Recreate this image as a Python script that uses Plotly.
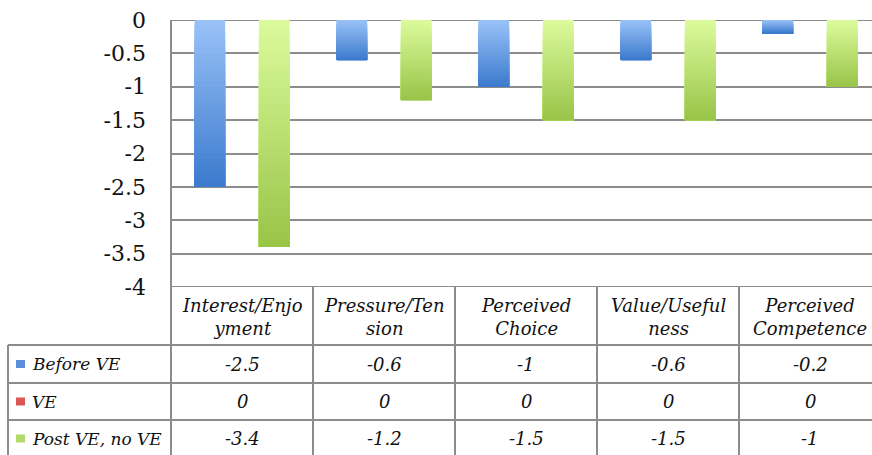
import plotly.graph_objects as go

# ---- data -------------------------------------------------------------
categories = ["Interest/Enjoyment", "Pressure/Tension", "Perceived Choice",
              "Value/Usefulness", "Perceived Competence"]
header_labels = ["Interest/Enjo<br>yment", "Pressure/Ten<br>sion",
                 "Perceived<br>Choice", "Value/Useful<br>ness",
                 "Perceived<br>Competence"]
series_names = ["Before VE", "VE", "Post VE, no VE"]
before_ve = [-2.5, -0.6, -1, -0.6, -0.2]
ve = [0, 0, 0, 0, 0]
post_ve = [-3.4, -1.2, -1.5, -1.5, -1]
value_labels = [
    ["-2.5", "-0.6", "-1", "-0.6", "-0.2"],
    ["0", "0", "0", "0", "0"],
    ["-3.4", "-1.2", "-1.5", "-1.5", "-1"],
]
y_ticks = [0, -0.5, -1, -1.5, -2, -2.5, -3, -3.5, -4]
y_tick_text = ["0", "-0.5", "-1", "-1.5", "-2", "-2.5", "-3", "-3.5", "-4"]

series_values = [before_ve, ve, post_ve]

# ---- styling ----------------------------------------------------------
W, H = 872, 455
M_L, M_R, M_T, M_B = 171, 0, 20, 168
PW, PH = W - M_L - M_R, H - M_T - M_B
CAT_PX = 142.0                       # width of one category band in px
X_RANGE = [-0.5, -0.5 + PW / CAT_PX]

GRID = "#8c8c8c"
TABLE_FONT = dict(family="DejaVu Serif", size=18, color="#111111", style="italic")
ROW_FONT = dict(family="DejaVu Serif", size=17, color="#111111", style="italic")
TICK_FONT = dict(family="DejaVu Serif", size=22, color="#111111")

# top/bottom colours of each series' vertical gradient
grad = [
    ((0x9a, 0xc2, 0xf8), (0x3b, 0x7a, 0xcd)),
    ((0xee, 0x8c, 0x8c), (0xc8, 0x3a, 0x3a)),
    ((0xdc, 0xfb, 0x9c), (0x98, 0xc4, 0x48)),
]
key_colors = ["#5b8fd9", "#d95757", "#b3d96c"]

N_SEG = 30


def mix(c0, c1, t):
    return "rgb(%d,%d,%d)" % tuple(round(a + (b - a) * t) for a, b in zip(c0, c1))


def px_x(px):
    return (px - M_L) / PW


def px_y(py):
    return (H - M_B - py) / PH


fig = go.Figure()

# Each bar is layered from progressively shorter overlapping pieces that all
# end at the value, so the fill shades light-to-dark along the bar's length.
for s, (name, vals) in enumerate(zip(series_names, series_values)):
    top, bot = grad[s]
    for k in range(N_SEG):
        fig.add_trace(go.Bar(
            x=categories,
            y=[v - v * k / N_SEG for v in vals],
            base=[v * k / N_SEG for v in vals],
            offsetgroup=name,
            name=name,
            showlegend=False,
            hoverinfo="skip",
            marker=dict(color=mix(top, bot, (k + 0.5) / N_SEG), line=dict(width=0)),
        ))

shapes = []
# frame lines at 0 and -4
for yv in (0, -4):
    shapes.append(dict(type="line", xref="paper", yref="y", x0=0, x1=1, y0=yv, y1=yv,
                       line=dict(color=GRID, width=2), layer="below"))

# ---- data table beneath the plot -------------------------------------
row_edges = [287, 345, 383, 420, 457]       # header, then one row per series
left_px = 8

# vertical line on the plot's left side, continued through the table
shapes.append(dict(type="line", xref="paper", yref="paper", x0=0, x1=0,
                   y0=px_y(M_T), y1=px_y(H + 2), line=dict(color=GRID, width=2)))
# column separators
for i in range(len(categories) - 1):
    shapes.append(dict(type="line", xref="x", yref="paper", x0=i + 0.5, x1=i + 0.5,
                       y0=px_y(row_edges[0]), y1=px_y(H + 2),
                       line=dict(color=GRID, width=2)))
# legend column outer edge
shapes.append(dict(type="line", xref="paper", yref="paper", x0=px_x(left_px), x1=px_x(left_px),
                   y0=px_y(row_edges[1]), y1=px_y(H + 2), line=dict(color=GRID, width=2)))
# horizontal row rules
for ry in row_edges[1:4]:
    shapes.append(dict(type="line", xref="paper", yref="paper", x0=px_x(left_px), x1=1,
                       y0=px_y(ry), y1=px_y(ry), line=dict(color=GRID, width=2)))

annotations = []
# header cells
for i, lab in enumerate(header_labels):
    annotations.append(dict(xref="x", yref="paper", x=i, y=px_y(317), text=lab,
                            showarrow=False, font=TABLE_FONT, xanchor="center",
                            yanchor="middle", align="center"))
# value cells and row labels with colour keys
for s, name in enumerate(series_names):
    cy = (row_edges[s + 1] + row_edges[s + 2]) / 2
    for i in range(len(categories)):
        annotations.append(dict(xref="x", yref="paper", x=i, y=px_y(cy),
                                text=value_labels[s][i], showarrow=False,
                                font=TABLE_FONT, xanchor="center", yanchor="middle"))
    annotations.append(dict(xref="paper", yref="paper", x=px_x(30), y=px_y(cy),
                            text=name, showarrow=False, font=ROW_FONT,
                            xanchor="left", yanchor="middle"))
    shapes.append(dict(type="rect", xref="paper", yref="paper",
                       x0=px_x(16), x1=px_x(25), y0=px_y(cy - 4), y1=px_y(cy + 4),
                       fillcolor=key_colors[s], line=dict(width=0)))

fig.update_layout(
    width=W, height=H,
    margin=dict(l=M_L, r=M_R, t=M_T, b=M_B, pad=0),
    paper_bgcolor="white", plot_bgcolor="white",
    barmode="group", bargap=0.32, bargroupgap=0.05,
    showlegend=False,
    shapes=shapes, annotations=annotations,
    xaxis=dict(type="category", range=X_RANGE, showticklabels=False,
               showgrid=False, zeroline=False, showline=False, fixedrange=True),
    yaxis=dict(range=[-4, 0], tickvals=y_ticks, ticktext=y_tick_text,
               showgrid=True, gridcolor=GRID, gridwidth=2, zeroline=False,
               showline=False, ticks="", ticklabelstandoff=24,
               tickfont=TICK_FONT, fixedrange=True),
)

fig.write_html("out.html", config={"displayModeBar": False})
